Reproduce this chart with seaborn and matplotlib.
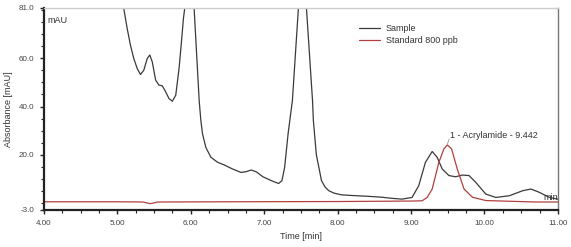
import matplotlib
matplotlib.use("Agg")
import matplotlib.pyplot as plt
import seaborn as sns
import pandas as pd
from matplotlib.ticker import MultipleLocator

# ---- data ----
sample_t = [4.00, 4.90, 5.00, 5.086, 5.133, 5.178, 5.223, 5.270, 5.315, 5.360, 5.407,
            5.442, 5.475, 5.521, 5.566, 5.612, 5.658, 5.703, 5.749, 5.795, 5.840, 5.873,
            5.900, 5.918, 5.97, 6.045, 6.114, 6.137, 6.160, 6.205, 6.274, 6.366, 6.456,
            6.571, 6.685, 6.753, 6.822, 6.890, 6.982, 7.096, 7.196, 7.242, 7.278, 7.325,
            7.384, 7.466, 7.52, 7.575, 7.658, 7.67, 7.71, 7.78, 7.83, 7.88, 7.95, 8.05,
            8.20, 8.40, 8.60, 8.75, 8.877, 9.014, 9.105, 9.196, 9.288, 9.356, 9.425,
            9.516, 9.607, 9.699, 9.790, 9.881, 10.018, 10.155, 10.338, 10.521, 10.634,
            10.749, 10.886, 11.00]
sample_v = [300, 160, 110, 81.0, 72.5, 65.5, 60.0, 55.8, 53.3, 55.1, 60.0,
            61.4, 58.6, 51.0, 48.9, 48.6, 46.1, 43.3, 42.2, 44.7, 55.8, 67.0,
            76.7, 81.0, 112, 81.0, 42.5, 34.2, 28.6, 23.0, 18.9, 16.8, 15.7,
            14.0, 12.6, 12.9, 13.6, 12.9, 10.8, 9.2, 8.0, 9.2, 14.7, 28.6,
            42.5, 81.0, 110, 81.0, 42.5, 34.0, 20.0, 9.2, 6.5, 5.0, 4.0, 3.3,
            3.0, 2.7, 2.3, 1.8, 1.5, 2.2, 7.1, 16.8, 21.3, 18.9, 14.0,
            11.3, 10.8, 11.5, 11.3, 8.5, 3.6, 2.2, 2.9, 5.0, 5.7,
            4.3, 2.2, 1.5]

std_t = [4.00, 5.00, 5.35, 5.45, 5.55, 6.50, 8.00, 9.00, 9.15, 9.22, 9.288, 9.379,
         9.448, 9.493, 9.552, 9.630, 9.722, 9.836, 10.02, 10.70, 11.00]
std_v = [0.4, 0.4, 0.3, -0.4, 0.3, 0.4, 0.5, 0.7, 0.8, 2.2, 5.7, 16.8,
         22.4, 24.0, 22.4, 14.0, 5.7, 2.3, 0.9, 0.3, 0.3]

series_names = ["Sample", "Standard 800 ppb"]
series_colors = ["#3a3a3a", "#b04040"]
y_ticks = [-3.0, 20.0, 40.0, 60.0, 81.0]
x_ticks = [4, 5, 6, 7, 8, 9, 10, 11]
peak_label = "1 - Acrylamide - 9.442"

df = pd.concat([
    pd.DataFrame({"Time": sample_t, "Abs": sample_v, "Series": series_names[0]}),
    pd.DataFrame({"Time": std_t, "Abs": std_v, "Series": series_names[1]}),
])

sns.set_theme(style="white")
plt.rcParams["font.family"] = ["Liberation Sans", "DejaVu Sans"]

fig = plt.figure(figsize=(5.71, 2.47), dpi=100)
ax = fig.add_axes([0.077, 0.150, 0.900, 0.818])

sns.lineplot(data=df, x="Time", y="Abs", hue="Series", palette=series_colors,
             linewidth=0.9, ax=ax, sort=False, estimator=None)

ax.set_xlim(4, 11)
ax.set_ylim(-3, 81)
ax.set_xticks(x_ticks)
ax.set_xticklabels([f"{v:.2f}" for v in x_ticks])
ax.set_yticks(y_ticks)
ax.set_yticklabels([f"{v:.1f}" for v in y_ticks])
ax.xaxis.set_minor_locator(MultipleLocator(0.25))
ax.yaxis.set_minor_locator(MultipleLocator(5))
ax.tick_params(axis="both", which="major", direction="out", length=3, width=1,
               labelsize=5.8, labelcolor="#444444", color="#222222", pad=4,
               bottom=True, left=True)
ax.tick_params(axis="both", which="minor", direction="out", length=2, width=0.8,
               color="#222222", bottom=True, left=True)

for side in ["left", "bottom"]:
    ax.spines[side].set_color("#222222")
    ax.spines[side].set_linewidth(1.6)
ax.spines["top"].set_color("#cccccc")
ax.spines["top"].set_linewidth(1.0)
ax.spines["right"].set_color("#777777")
ax.spines["right"].set_linewidth(1.0)

ax.set_xlabel("Time [min]", fontsize=6.5, color="#333333", labelpad=4)
ax.set_ylabel("Absorbance [mAU]", fontsize=6.5, color="#333333", labelpad=4)

ax.text(0.007, 0.94, "mAU", transform=ax.transAxes, fontsize=6.5, color="#333333",
        va="center", ha="left")
ax.text(10.8, 0.5, "min", fontsize=6.5, color="#333333", va="bottom", ha="left")

ax.plot([9.49, 9.52], [24.0, 26.5], color="#999999", linewidth=0.6)
ax.text(9.53, 26.0, peak_label, fontsize=6.5, color="#333333", va="bottom", ha="left")

leg = ax.legend(loc="upper left", bbox_to_anchor=(0.60, 0.95), frameon=False,
                fontsize=6.5, handlelength=2.4, handletextpad=0.6, labelspacing=0.3,
                borderpad=0.2)
for t in leg.get_texts():
    t.set_color("#333333")

fig.savefig("out.png", dpi=100)
